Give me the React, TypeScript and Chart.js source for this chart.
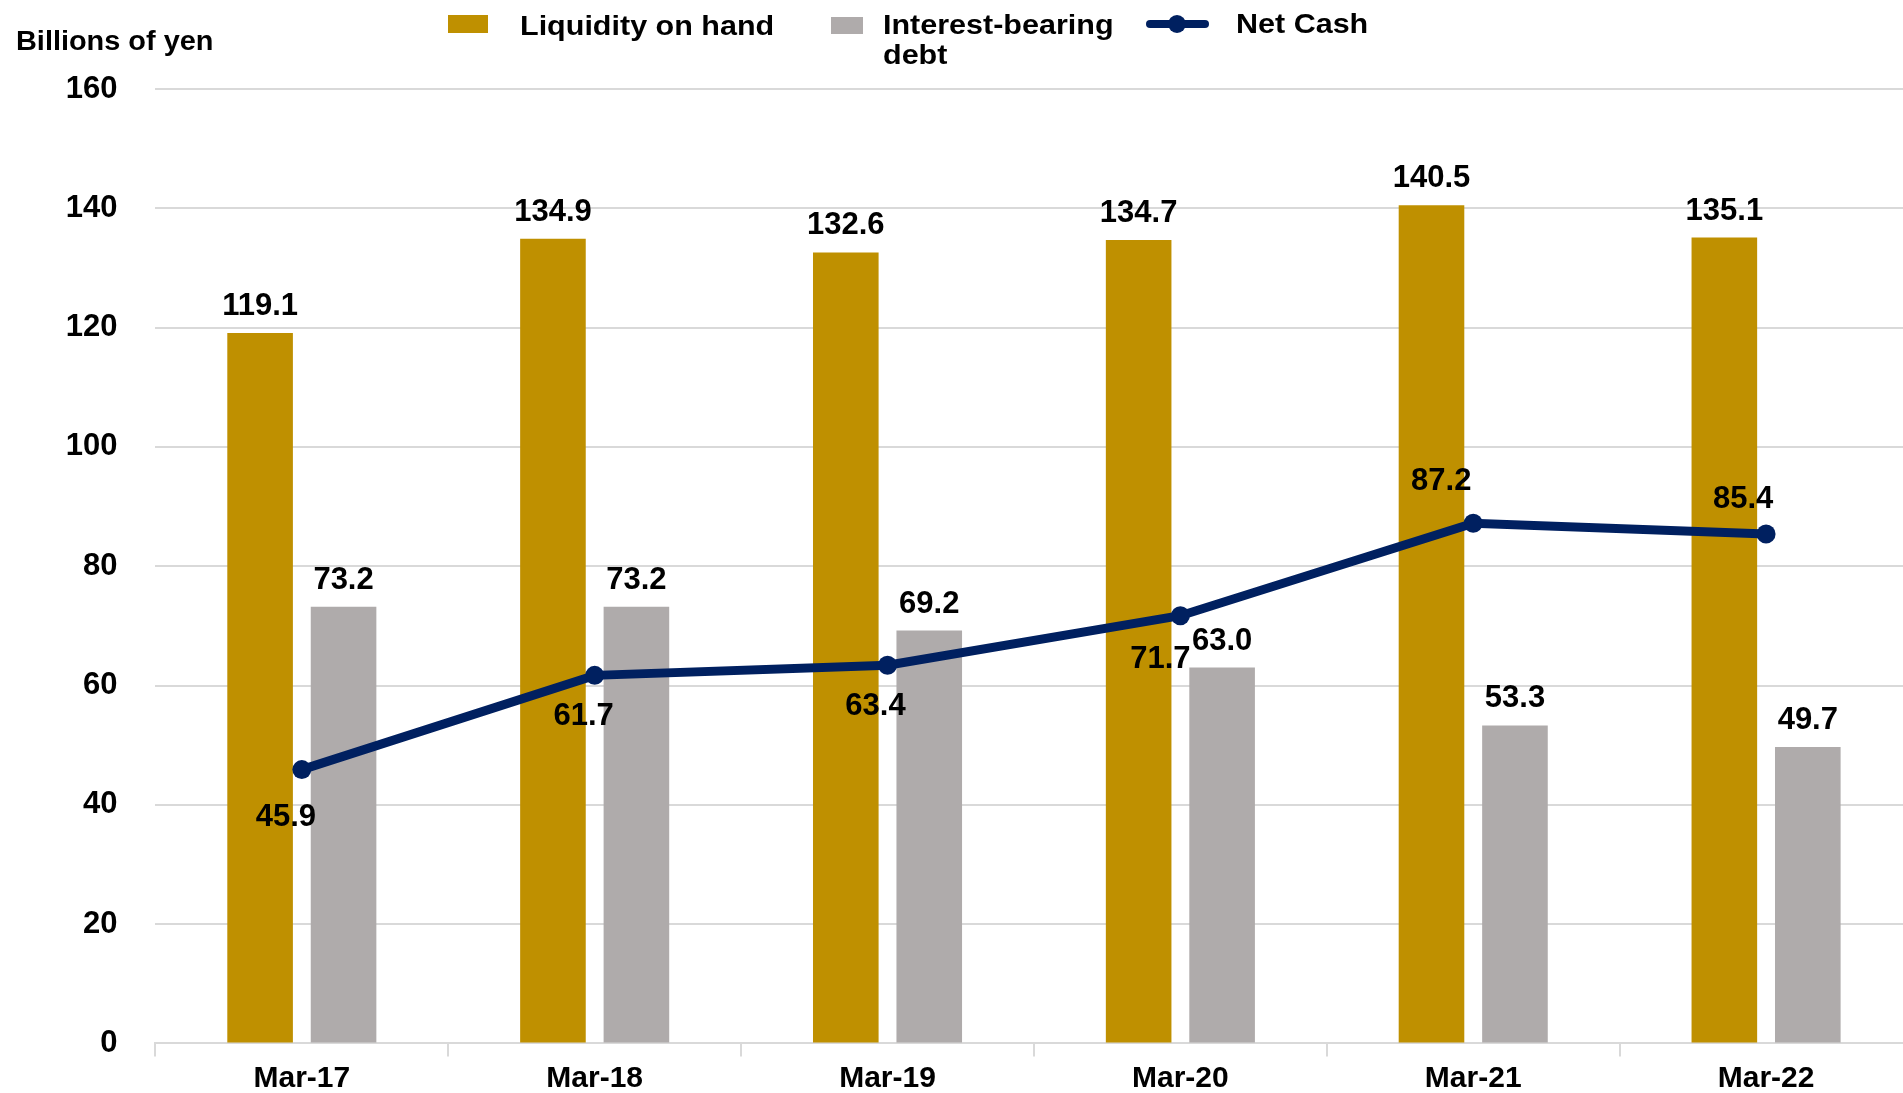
import React, { useEffect, useRef } from "react";
import { Chart, registerables } from "chart.js";

Chart.register(...registerables);

// ---- data ----
const categories = ["Mar-17", "Mar-18", "Mar-19", "Mar-20", "Mar-21", "Mar-22"];
const liquidityOnHand = [119.1, 134.9, 132.6, 134.7, 140.5, 135.1];
const interestBearingDebt = [73.2, 73.2, 69.2, 63.0, 53.3, 49.7];
const netCash = [45.9, 61.7, 63.4, 71.7, 87.2, 85.4];
const yMin = 0;
const yMax = 160;
const yStep = 20;
const yAxisTitle = "Billions of yen";
const seriesNames = ["Liquidity on hand", "Interest-bearing debt", "Net Cash"];
const legendDebtLines = ["Interest-bearing", "debt"];

// ---- styles ----
const GOLD = "#BF9000";
const GRAY = "#AFABAB";
const NAVY = "#002060";
const GRID = "#D9D9D9";
const FONT = "'Liberation Sans', Arial, Helvetica, sans-serif";

// placement offsets (px) of the Net Cash value labels, relative to each point
const netCashLabelOffsets: [number, number][] = [
  [-16, 45],
  [-11, 39],
  [-12, 39],
  [-20, 41],
  [-32, -44],
  [-23, -37],
];

const valueLabels = {
  id: "valueLabels",
  afterDatasetsDraw(chart: any) {
    const ctx = chart.ctx as CanvasRenderingContext2D;
    ctx.save();
    ctx.fillStyle = "#000";
    ctx.font = `bold 31px ${FONT}`;
    ctx.textAlign = "center";
    ctx.textBaseline = "alphabetic";
    chart.data.datasets.forEach((ds: any, i: number) => {
      const meta = chart.getDatasetMeta(i);
      meta.data.forEach((el: any, j: number) => {
        const v = ds.data[j] as number;
        const text = v.toFixed(1);
        if (ds.type === "line") {
          const [dx, dy] = netCashLabelOffsets[j];
          ctx.fillText(text, el.x + dx, el.y + dy + 11);
        } else {
          ctx.fillText(text, el.x, el.y - 18);
        }
      });
    });
    ctx.restore();
  },
};

function stretchedText(
  ctx: CanvasRenderingContext2D,
  text: string,
  x: number,
  y: number,
  size: number,
  sx: number
) {
  ctx.save();
  ctx.font = `bold ${size}px ${FONT}`;
  ctx.textAlign = "left";
  ctx.textBaseline = "alphabetic";
  ctx.fillStyle = "#000";
  ctx.translate(x, y);
  ctx.scale(sx, 1);
  ctx.fillText(text, 0, 0);
  ctx.restore();
}

const headerPlugin = {
  id: "headerPlugin",
  afterDraw(chart: any) {
    const ctx = chart.ctx as CanvasRenderingContext2D;
    ctx.save();
    // axis title
    stretchedText(ctx, yAxisTitle, 16, 50, 27, 1.07);
    // legend: liquidity
    ctx.fillStyle = GOLD;
    ctx.fillRect(448, 15, 40, 18);
    stretchedText(ctx, seriesNames[0], 520, 35, 27, 1.13);
    // legend: debt
    ctx.fillStyle = GRAY;
    ctx.fillRect(831, 17, 32, 17);
    stretchedText(ctx, legendDebtLines[0], 883, 34, 27, 1.13);
    stretchedText(ctx, legendDebtLines[1], 883, 64, 27, 1.13);
    // legend: net cash
    ctx.strokeStyle = NAVY;
    ctx.lineWidth = 8;
    ctx.lineCap = "round";
    ctx.beginPath();
    ctx.moveTo(1150, 24);
    ctx.lineTo(1205, 24);
    ctx.stroke();
    ctx.fillStyle = NAVY;
    ctx.beginPath();
    ctx.arc(1177, 24, 9, 0, Math.PI * 2);
    ctx.fill();
    stretchedText(ctx, seriesNames[2], 1236, 33, 27, 1.13);
    ctx.restore();
  },
};

export default function App() {
  const canvasRef = useRef<HTMLCanvasElement | null>(null);

  useEffect(() => {
    if (!canvasRef.current) return;
    const tickFont = { family: FONT, size: 31, weight: "bold" as const };
    const chart = new Chart(canvasRef.current, {
      type: "bar",
      data: {
        labels: categories,
        datasets: [
          {
            type: "line" as const,
            label: seriesNames[2],
            data: netCash,
            borderColor: NAVY,
            backgroundColor: NAVY,
            borderWidth: 9,
            pointRadius: 9.5,
            pointBackgroundColor: NAVY,
            pointBorderWidth: 0,
            tension: 0,
            order: 0,
          },
          {
            type: "bar" as const,
            label: seriesNames[0],
            data: liquidityOnHand,
            backgroundColor: GOLD,
            categoryPercentage: 0.57,
            barPercentage: 0.786,
            order: 1,
          },
          {
            type: "bar" as const,
            label: seriesNames[1],
            data: interestBearingDebt,
            backgroundColor: GRAY,
            categoryPercentage: 0.57,
            barPercentage: 0.786,
            order: 1,
          },
        ] as any,
      },
      options: {
        responsive: false,
        maintainAspectRatio: false,
        animation: false,
        devicePixelRatio: 1,
        layout: { padding: { top: 89, left: 0, right: 0, bottom: 0 } },
        plugins: {
          legend: { display: false },
          tooltip: { enabled: false },
        },
        scales: {
          x: {
            grid: {
              offset: true,
              drawOnChartArea: false,
              drawTicks: true,
              tickLength: 13,
              color: GRID,
              lineWidth: 2,
            },
            border: { display: true, color: GRID, width: 2 },
            ticks: {
              font: { family: FONT, size: 30, weight: "bold" },
              color: "#000",
              padding: 4,
              maxRotation: 0,
            },
            afterFit: (s: any) => {
              s.height = 49.6;
            },
          },
          y: {
            min: yMin,
            max: yMax,
            ticks: {
              stepSize: yStep,
              padding: 38,
              font: tickFont,
              color: "#000",
            },
            grid: { color: GRID, lineWidth: 2, drawTicks: false },
            border: { display: false },
            afterFit: (s: any) => {
              s.width = 155.4;
            },
          },
        },
      } as any,
      plugins: [valueLabels, headerPlugin],
    });
    return () => chart.destroy();
  }, []);

  return (
    <div
      style={{
        position: "fixed",
        left: 0,
        top: 0,
        width: 1903,
        height: 1093,
        overflow: "hidden",
        background: "#fff",
      }}
    >
      <div style={{ width: 1922, height: 1100 }}>
        <canvas
          ref={canvasRef}
          width={1922}
          height={1100}
          style={{ display: "block", width: 1922, height: 1100 }}
        />
      </div>
    </div>
  );
}
